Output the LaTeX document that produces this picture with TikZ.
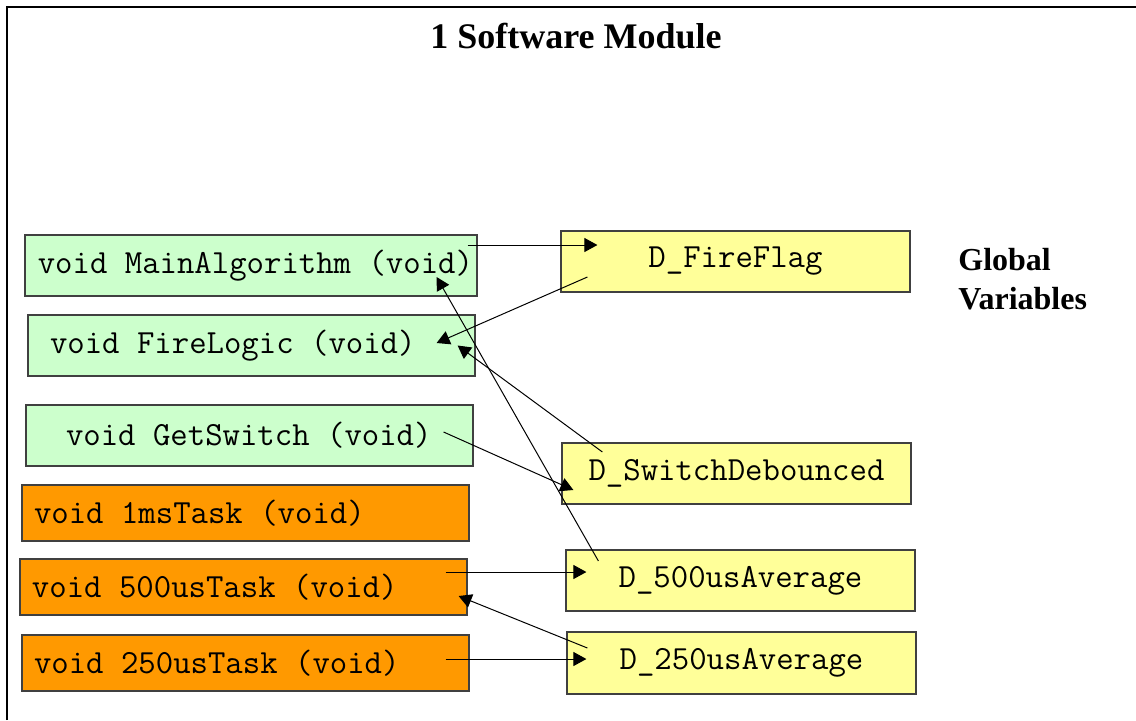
\documentclass[tikz,border=0pt]{standalone}
\usepackage{fontspec}
\setmainfont{Liberation Serif}
\usepackage{tikz}
\usetikzlibrary{arrows.meta, calc}

\definecolor{FuncGreen}{HTML}{CCFFCC}
\definecolor{TaskOrange}{HTML}{FF9900}
\definecolor{VarYellow}{HTML}{FFFF99}

\begin{document}
\begin{tikzpicture}[x=0.5pt, y=-0.5pt,
  function/.style={rectangle, draw=black!75, line width=.6pt, fill=FuncGreen,
    minimum height=30.5pt, align=left,
    font=\ttfamily\fontsize{16.9}{19}\selectfont,
    execute at begin node={\spaceskip=0pt\relax}},
  %
  task/.style={function, fill=TaskOrange, minimum height=28pt,
    inner xsep=6pt, text width=211.5pt},
  %
  globalvar/.style={rectangle, draw=black!75, line width=.6pt, fill=VarYellow,
    minimum width=174.5pt, minimum height=30.5pt,
    font=\ttfamily\fontsize{16.9}{19}\selectfont},
  %
  link/.style={-{Triangle[length=6.5pt, width=7pt]}, line width=.5pt}
  ]

  \useasboundingbox (0,0) rectangle (1136,720);
  \draw [line width=1pt] (7,720) -- (7,7) -- (1136,7);

  \node [font=\bfseries\fontsize{18}{22}\selectfont] (title) at (576,36)
    {1 Software Module};
  \node [font=\bfseries\fontsize{16}{19.2}\selectfont, align=left,
    anchor=north west, inner sep=0pt] (globals) at (958,248)
    {Global\\Variables};

  %%%%%%%%%%%%%%%%%%%%%%%%%%%%%%%
  \node [function, align=right, inner xsep=2pt, text width=222pt] (main)
    at (251,265.5) {void MainAlgorithm (void)};
  \node [function, inner xsep=11pt, text width=201.5pt] (fire) at (251.5,345.5)
    {void FireLogic (void)};
  \node [function, inner xsep=20pt, text width=183.5pt] (getsw) at (249.5,435.5)
    {void GetSwitch (void)};
  %%%%%%%%%%%%%%%%%%%%%%%%%%%%%%%
  \node [task] (task1ms) at (245.5,513) {void 1msTask (void)};
  \node [task] (task500) at (243.5,587) {void 500usTask (void)};
  \node [task] (task250) at (245.5,663) {void 250usTask (void)};
  %%%%%%%%%%%%%%%%%%%%%%%%%%%%%%%
  \node [globalvar] (flag) at (735.5,261.5) {D\_FireFlag};
  \node [globalvar] (sdeb) at (736.5,473.5) {D\_SwitchDebounced};
  \node [globalvar] (avg500) at (740.5,580.5) {D\_500usAverage};
  \node [globalvar, minimum height=31pt] (avg250) at (741.5,663) {D\_250usAverage};

  \draw [link] ($(main.east)+(-10,-20.5)$) -- ($(flag.west)+(37,-16.5)$);
  \draw [link] ($(flag.west)+(27,15.5)$) -- ($(fire.east)+(-39,-2.5)$);
  \draw [link] ($(sdeb.west)+(41,-21.5)$) -- ($(fire.east)+(-18,0)$);
  \draw [link] ($(avg500.west)+(33,-19.5)$) -- ($(main.east)+(-41,11.5)$);
  \draw [link] ($(getsw.east)+(-30,-3.5)$) -- ($(sdeb.west)+(12,16.5)$);
  \draw [link] ($(task500.east)+(-22,-15)$) -- ($(avg500.west)+(21,-8.5)$);
  \draw [link] ($(avg250.west)+(21,-15)$) -- ($(task500.east)+(-9,9)$);
  \draw [link] ($(task250.east)+(-24,-4)$) -- ($(avg250.west)+(20,-4)$);

\end{tikzpicture}
\end{document}
